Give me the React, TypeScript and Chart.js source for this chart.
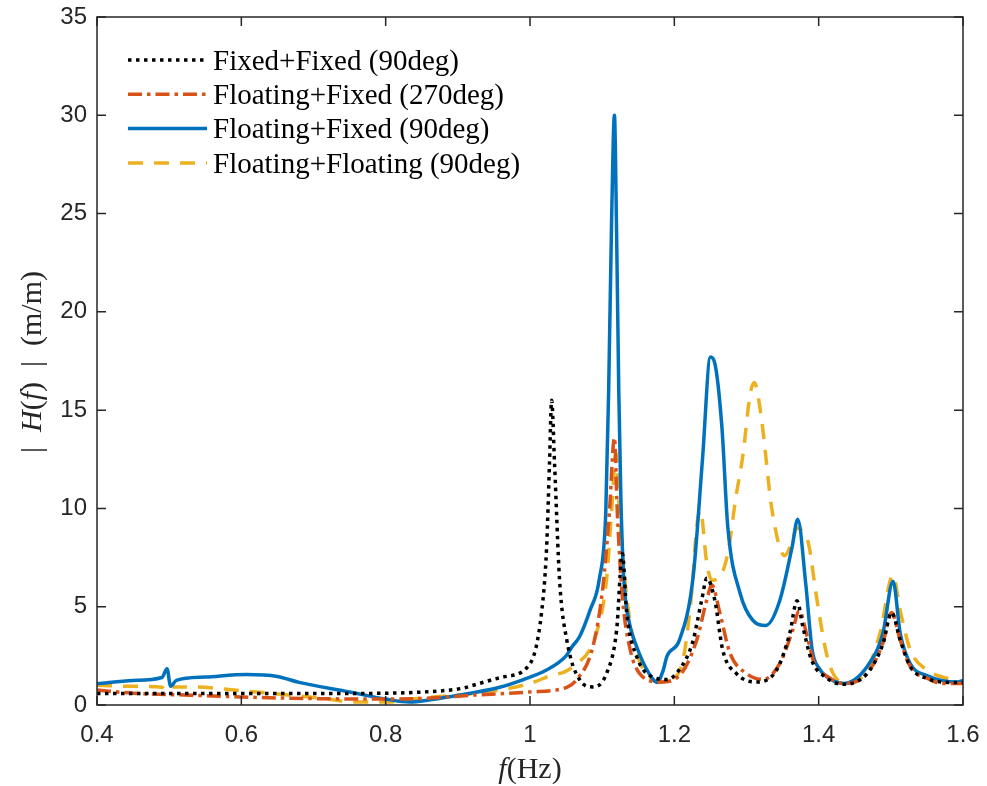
import React, { useEffect, useRef } from "react";
import { Chart, registerables } from "chart.js";

Chart.register(...registerables);

// ---------------- data ----------------
const seriesLabels = [
  "Fixed+Fixed (90deg)",
  "Floating+Fixed (270deg)",
  "Floating+Fixed (90deg)",
  "Floating+Floating (90deg)",
];

const xTickValues = [0.4, 0.6, 0.8, 1.0, 1.2, 1.4, 1.6];
const yTickValues = [0, 5, 10, 15, 20, 25, 30, 35];

const blackF = [0.4, 0.5, 0.6, 0.7, 0.8, 0.851, 0.906, 0.93, 0.962, 1.0, 1.016, 1.023, 1.027, 1.03, 1.034, 1.041, 1.051, 1.069, 1.087, 1.106, 1.12, 1.128, 1.134, 1.148, 1.17, 1.19, 1.207, 1.225, 1.238, 1.245, 1.256, 1.267, 1.286, 1.314, 1.342, 1.36, 1.37, 1.378, 1.39, 1.41, 1.434, 1.467, 1.489, 1.501, 1.513, 1.527, 1.55, 1.58, 1.6];
const blackV = [0.58, 0.58, 0.58, 0.58, 0.6, 0.66, 0.85, 1.1, 1.42, 2.1, 4.7, 8.0, 12.3, 15.5, 12.3, 6.35, 3.3, 1.27, 0.92, 1.6, 3.8, 7.7, 4.7, 2.45, 1.42, 1.3, 1.8, 3.15, 5.35, 6.45, 5.35, 2.8, 1.6, 1.17, 1.8, 3.65, 5.3, 4.0, 2.3, 1.4, 1.05, 1.6, 3.1, 4.7, 3.3, 1.95, 1.35, 1.15, 1.15];

const orangeF = [0.4, 0.45, 0.528, 0.66, 0.805, 0.861, 0.92, 0.999, 1.051, 1.065, 1.087, 1.101, 1.11, 1.117, 1.121, 1.128, 1.138, 1.152, 1.18, 1.207, 1.231, 1.245, 1.252, 1.263, 1.277, 1.3, 1.323, 1.346, 1.364, 1.373, 1.384, 1.395, 1.41, 1.434, 1.467, 1.489, 1.501, 1.513, 1.527, 1.55, 1.572, 1.6];
const orangeV = [0.76, 0.6, 0.5, 0.35, 0.3, 0.35, 0.5, 0.66, 0.9, 1.3, 2.95, 6.0, 9.8, 13.6, 9.8, 5.5, 2.95, 1.6, 1.17, 1.5, 3.3, 5.35, 6.1, 4.7, 2.65, 1.6, 1.3, 2.1, 3.8, 4.8, 3.5, 2.0, 1.5, 1.1, 1.6, 3.15, 4.7, 3.3, 1.95, 1.37, 1.1, 1.1];

const blueF = [0.4, 0.45, 0.49, 0.497, 0.502, 0.51, 0.55, 0.607, 0.65, 0.68, 0.75, 0.8, 0.833, 0.86, 0.888, 0.958, 1.0, 1.023, 1.05, 1.058, 1.069, 1.083, 1.096, 1.105, 1.109, 1.113, 1.117, 1.12, 1.123, 1.126, 1.13, 1.137, 1.148, 1.165, 1.176, 1.184, 1.19, 1.207, 1.226, 1.239, 1.25, 1.256, 1.266, 1.274, 1.291, 1.309, 1.327, 1.346, 1.363, 1.371, 1.382, 1.391, 1.4, 1.411, 1.434, 1.467, 1.489, 1.503, 1.513, 1.527, 1.55, 1.592, 1.6];
const blueV = [1.08, 1.25, 1.4, 1.85, 0.95, 1.25, 1.42, 1.55, 1.45, 1.15, 0.66, 0.3, 0.15, 0.25, 0.42, 0.9, 1.42, 1.78, 2.5, 2.95, 3.5, 4.8, 6.4, 9.8, 16, 24.5, 30.0, 24, 16, 10.4, 6.4, 4.3, 2.95, 1.6, 1.15, 1.7, 2.5, 3.3, 6.5, 12.5, 17.7, 17.4, 14.1, 9.1, 5.7, 4.3, 4.05, 5.3, 8.0, 9.45, 6.2, 2.8, 1.9, 1.45, 1.1, 1.95, 3.65, 6.3, 3.65, 2.1, 1.5, 1.17, 1.25];

const yellowF = [0.4, 0.45, 0.49, 0.497, 0.505, 0.528, 0.62, 0.71, 0.757, 0.8, 0.85, 0.94, 1.0, 1.023, 1.059, 1.092, 1.106, 1.113, 1.119, 1.124, 1.134, 1.148, 1.166, 1.18, 1.195, 1.212, 1.224, 1.231, 1.236, 1.245, 1.252, 1.266, 1.275, 1.285, 1.295, 1.305, 1.311, 1.317, 1.323, 1.335, 1.353, 1.363, 1.37, 1.376, 1.386, 1.397, 1.41, 1.42, 1.439, 1.467, 1.485, 1.503, 1.513, 1.527, 1.55, 1.572, 1.592];
const yellowV = [1.0, 0.95, 0.9, 0.7, 0.92, 0.92, 0.66, 0.35, 0.15, 0.15, 0.35, 0.66, 1.1, 1.42, 1.95, 3.65, 6.35, 9.8, 12.8, 9.8, 5.5, 2.65, 1.42, 1.15, 1.3, 2.3, 5.7, 9.05, 9.9, 7.2, 6.35, 6.7, 7.9, 10.5, 12.7, 15.8, 16.4, 15.5, 13.9, 10.0, 7.6, 8.3, 9.0, 8.9, 8.2, 5.5, 2.75, 1.6, 1.12, 1.78, 3.65, 6.6, 4.8, 2.8, 1.78, 1.42, 1.27];

// ---------------- helpers ----------------
const pts = (f: number[], v: number[]) => f.map((x, i) => ({ x, y: v[i] }));

const AXIS_COLOR = "#262626";
const SERIF = '"Liberation Serif", "Times New Roman", serif';
const SANS = '"Liberation Sans", Arial, Helvetica, sans-serif';

type Seg = { t: string; it?: boolean };

function drawMixed(ctx: CanvasRenderingContext2D, segs: Seg[], size: number, cx: number, cy: number) {
  const fontOf = (it?: boolean) => `${it ? "italic " : ""}${size}px ${SERIF}`;
  let total = 0;
  const widths = segs.map((s) => {
    ctx.font = fontOf(s.it);
    const w = ctx.measureText(s.t).width;
    total += w;
    return w;
  });
  let x = cx - total / 2;
  ctx.textBaseline = "middle";
  ctx.textAlign = "left";
  segs.forEach((s, i) => {
    ctx.font = fontOf(s.it);
    ctx.fillText(s.t, x, cy);
    x += widths[i];
  });
}

const framePlugin = {
  id: "matlabFrame",
  afterDatasetsDraw(chart: any) {
    const { ctx } = chart;
    ctx.save();
    const ds = chart.data.datasets;
    ds.forEach((d: any, i: number) => {
      const y = 60 + i * 34.3;
      ctx.save();
      ctx.strokeStyle = d.borderColor;
      ctx.lineWidth = d.borderWidth;
      ctx.setLineDash(d.borderDash || []);
      ctx.lineCap = "butt";
      ctx.beginPath();
      ctx.moveTo(128, y);
      ctx.lineTo(207, y);
      ctx.stroke();
      ctx.restore();
      ctx.fillStyle = "#000";
      ctx.font = `29px ${SERIF}`;
      ctx.textAlign = "left";
      ctx.textBaseline = "middle";
      ctx.fillText(d.label, 213, y + 2);
    });
    ctx.restore();
  },
  afterDraw(chart: any) {
    const { ctx, chartArea: a, scales } = chart;
    ctx.save();
    ctx.strokeStyle = AXIS_COLOR;
    ctx.lineWidth = 1.5;
    ctx.setLineDash([]);
    ctx.strokeRect(a.left, a.top, a.right - a.left, a.bottom - a.top);
    const tl = 9;
    ctx.beginPath();
    xTickValues.forEach((v) => {
      const px = scales.x.getPixelForValue(v);
      ctx.moveTo(px, a.bottom);
      ctx.lineTo(px, a.bottom - tl);
      ctx.moveTo(px, a.top);
      ctx.lineTo(px, a.top + tl);
    });
    yTickValues.forEach((v) => {
      const py = scales.y.getPixelForValue(v);
      ctx.moveTo(a.left, py);
      ctx.lineTo(a.left + tl, py);
      ctx.moveTo(a.right, py);
      ctx.lineTo(a.right - tl, py);
    });
    ctx.stroke();

    // axis titles
    ctx.fillStyle = AXIS_COLOR;
    drawMixed(ctx, [{ t: "f", it: true }, { t: "(Hz)" }], 30, (a.left + a.right) / 2, 770);
    ctx.save();
    ctx.translate(33, 362);
    ctx.rotate(-Math.PI / 2);
    drawMixed(
      ctx,
      [{ t: "|\u2002" }, { t: "H", it: true }, { t: "(" }, { t: "f", it: true }, { t: ")\u2002|\u2002(m/m)" }],
      30,
      0,
      0
    );
    ctx.restore();
    ctx.restore();
  },
};

export default function App() {
  const ref = useRef<HTMLCanvasElement | null>(null);

  useEffect(() => {
    if (!ref.current) return;
    const common = {
      fill: false,
      pointRadius: 0,
      pointHoverRadius: 0,
      borderWidth: 3.5,
      cubicInterpolationMode: "monotone" as const,
      borderCapStyle: "butt" as const,
      borderJoinStyle: "round" as const,
    };
    const chart = new Chart(ref.current, {
      type: "line",
      data: {
        datasets: [
          { ...common, label: seriesLabels[0], data: pts(blackF, blackV), borderColor: "#000000", borderDash: [3.5, 4.5] },
          { ...common, label: seriesLabels[1], data: pts(orangeF, orangeV), borderColor: "#D95319", borderDash: [14, 5, 3.5, 5] },
          { ...common, label: seriesLabels[2], data: pts(blueF, blueV), borderColor: "#0072BD" },
          { ...common, label: seriesLabels[3], data: pts(yellowF, yellowV), borderColor: "#EDB120", borderDash: [15, 11] },
        ],
      },
      options: {
        animation: false,
        responsive: true,
        maintainAspectRatio: false,
        layout: { padding: { left: 0, top: 17, right: 24, bottom: 0 } },
        plugins: { legend: { display: false }, tooltip: { enabled: false } },
        scales: {
          x: {
            type: "linear",
            min: 0.4,
            max: 1.6,
            grid: { display: false, drawTicks: false },
            border: { display: false },
            ticks: {
              stepSize: 0.2,
              padding: 16,
              color: AXIS_COLOR,
              font: { family: SANS, size: 24 },
              maxRotation: 0,
              callback: (v: any) => String(Number(Number(v).toFixed(1))),
            },
            afterFit: (s: any) => {
              s.height = 81;
              s.paddingLeft = 0;
              s.paddingRight = 0;
            },
          },
          y: {
            min: 0,
            max: 35,
            grid: { display: false, drawTicks: false },
            border: { display: false },
            ticks: {
              stepSize: 5,
              padding: 10,
              color: AXIS_COLOR,
              font: { family: SANS, size: 24 },
            },
            afterFit: (s: any) => {
              s.width = 97;
              s.paddingTop = 0;
              s.paddingBottom = 0;
            },
          },
        },
      },
      plugins: [framePlugin],
    });
    return () => chart.destroy();
  }, []);

  return (
    <div style={{ position: "absolute", left: 0, top: 0, width: 987, height: 786, background: "#fff" }}>
      <canvas ref={ref} />
    </div>
  );
}
